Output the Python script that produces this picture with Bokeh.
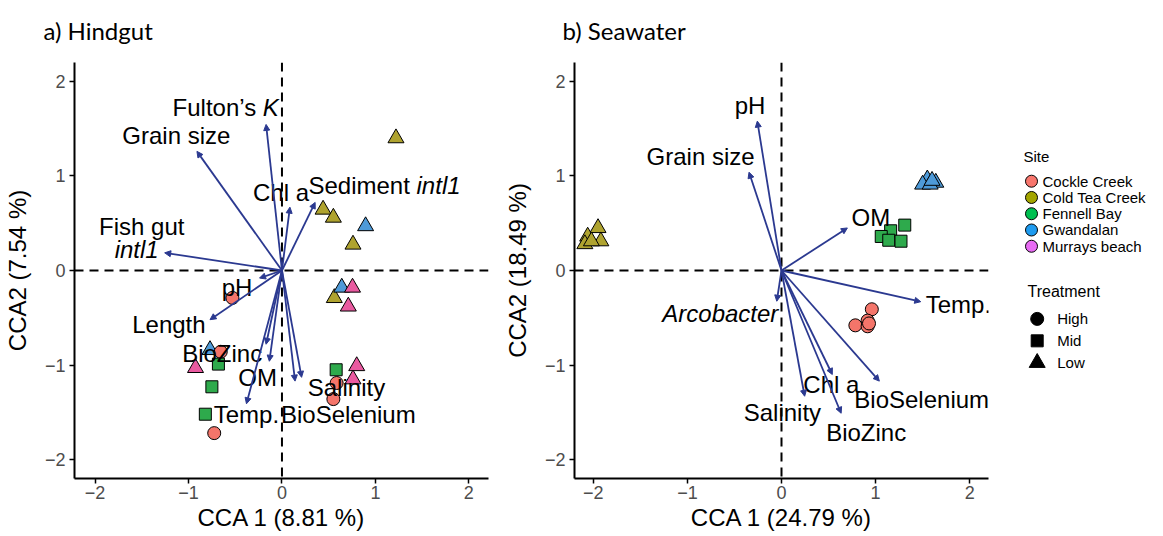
from bokeh.plotting import figure
from bokeh.models import Range1d, Span, Arrow, NormalHead, ColumnDataSource, FixedTicker
from bokeh.layouts import row
from bokeh.embed import file_html
from bokeh.resources import INLINE
from bokeh.core.properties import value

# ---------------- data ----------------
sites = ["Cockle Creek", "Cold Tea Creek", "Fennell Bay", "Gwandalan", "Murrays beach"]
site_treatment = {"Cockle Creek": "High", "Cold Tea Creek": "Low", "Fennell Bay": "Mid",
                  "Gwandalan": "Low", "Murrays beach": "Low"}
treatments = ["High", "Mid", "Low"]

# Hindgut sample scores
hind_site = (["Cold Tea Creek"] * 5 + ["Gwandalan"] * 3 + ["Murrays beach"] * 5 +
             ["Cockle Creek"] * 5 + ["Fennell Bay"] * 4)
hind_x = [1.22, 0.44, 0.55, 0.76, 0.56,
          0.895, 0.64, -0.77,
          0.755, 0.71, -0.925, 0.80, 0.76,
          -0.53, -0.655, -0.725, 0.585, 0.55,
          -0.68, -0.75, -0.82, 0.58]
hind_y = [1.40, 0.645, 0.56, 0.275, -0.29,
          0.47, -0.18, -0.84,
          -0.18, -0.38, -1.03, -1.01, -1.15,
          -0.29, -0.86, -1.72, -1.19, -1.36,
          -0.99, -1.23, -1.52, -1.05]

# Hindgut biplot arrows
hind_vars = ["Fulton's K", "Grain size", "Chl a", "Sediment intl1", "Fish gut intl1", "pH",
             "Length", "BioZinc", "OM", "Temp.", "Salinity", "BioSelenium"]
hind_ax = [-0.17, -0.91, 0.085, 0.355, -1.255, -0.24, -0.77, -0.17, -0.135, -0.38, 0.14, 0.21]
hind_ay = [1.545, 1.26, 0.67, 0.72, 0.187, -0.08, -0.52, -0.78, -0.96, -1.41, -1.17, -1.13]

# Hindgut arrow labels (plain)
hind_lab = ["Grain size", "Chl a", "pH", "Length", "BioZinc", "OM", "Temp.", "Salinity",
            "BioSelenium", "Fish gut"]
hind_lx = [-1.13, -0.01, -0.48, -1.21, -0.64, -0.26, -0.38, 0.69, 0.71, -1.50]
hind_ly = [1.43, 0.82, -0.18, -0.57, -0.88, -1.13, -1.52, -1.24, -1.52, 0.47]
# labels with italic parts: plain part ends / italic part starts at (x, y)
hind_mix_plain = ["Fulton\u2019s ", "Sediment "]
hind_mix_ital = ["K", "intl1"]
hind_mx = [-0.205, 1.44]
hind_my = [1.72, 0.90]
# fully italic labels
hind_ital = ["intl1"]
hind_ix = [-1.555]
hind_iy = [0.22]

# Seawater sample scores
sea_site = (["Cold Tea Creek"] * 5 + ["Gwandalan"] * 5 + ["Fennell Bay"] * 5 +
            ["Cockle Creek"] * 5)
sea_x = [-1.95, -2.06, -2.09, -1.92, -2.02,
         1.55, 1.50, 1.64, 1.58, 1.60,
         1.31, 1.16, 1.06, 1.14, 1.27,
         0.96, 0.915, 0.785, 0.915, 0.93]
sea_y = [0.45, 0.36, 0.28, 0.31, 0.31,
         0.965, 0.91, 0.93, 0.91, 0.95,
         0.48, 0.42, 0.36, 0.32, 0.31,
         -0.41, -0.53, -0.58, -0.59, -0.56]

sea_vars = ["pH", "Grain size", "OM", "Temp.", "Arcobacter", "Chl a", "BioSelenium",
            "Salinity", "BioZinc"]
sea_ax = [-0.257, -0.345, 0.70, 1.48, -0.05, 0.54, 1.04, 0.246, 0.634]
sea_ay = [1.58, 1.04, 0.45, -0.33, -0.325, -1.10, -1.17, -1.33, -1.51]

sea_lab = ["pH", "Grain size", "OM", "Temp.", "Chl a", "BioSelenium", "Salinity", "BioZinc"]
sea_lx = [-0.335, -0.86, 0.95, 1.88, 0.53, 1.49, 0.01, 0.90]
sea_ly = [1.74, 1.21, 0.565, -0.36, -1.21, -1.36, -1.50, -1.71]
sea_ital = ["Arcobacter"]
sea_ix = [-0.65]
sea_iy = [-0.45]

ticks = [-2, -1, 0, 1, 2]

# ---------------- styles ----------------
plot_colors = {"Cockle Creek": "#F4756A", "Cold Tea Creek": "#AFA32F", "Fennell Bay": "#2EAA4C",
               "Gwandalan": "#4E9AD8", "Murrays beach": "#E95AA0"}
legend_colors = {"Cockle Creek": "#F8766D", "Cold Tea Creek": "#A3A500", "Fennell Bay": "#00BF50",
                 "Gwandalan": "#1E9BF0", "Murrays beach": "#E76BF3"}
markers = {"High": "circle", "Mid": "square", "Low": "triangle"}
msize = {"High": 13, "Mid": 12, "Low": 16}
ARROW = "#2B3990"
FONT = "Liberation Sans"
TITLE_FONT = "Lato"
TOP, BOTTOM, H = 61, 58, 536
LABEL_SIZE = "24px"


def panel(title, title_offset, xlab, ylab, xr, yr, width, left, pts, arr, labs, mixed, itals):
    p = figure(width=width, height=H, min_border_left=left, min_border_right=12,
               min_border_top=TOP, min_border_bottom=BOTTOM,
               x_range=Range1d(*xr), y_range=Range1d(*yr), output_backend="svg",
               toolbar_location=None)
    p.title.text = title
    p.title.text_font = TITLE_FONT
    p.title.text_font_size = "24px"
    p.title.text_font_style = "normal"
    p.title.text_color = "black"
    p.title.offset = title_offset
    p.title.vertical_align = "top"
    p.title.standoff = 31
    p.grid.visible = False
    p.outline_line_color = None
    p.background_fill_color = "white"
    for ax, lab in ((p.xaxis, xlab), (p.yaxis, ylab)):
        ax.axis_label = lab
        ax.ticker = FixedTicker(ticks=ticks)
        ax.axis_label_text_font = FONT
        ax.axis_label_text_font_size = LABEL_SIZE
        ax.axis_label_text_font_style = "normal"
        ax.axis_label_text_color = "black"
        ax.major_label_text_font = FONT
        ax.major_label_text_font_size = "18px"
        ax.major_label_text_color = "#4D4D4D"
        ax.axis_line_color = "black"
        ax.axis_line_width = 2
        ax.major_tick_line_color = "black"
        ax.major_tick_line_width = 1.5
        ax.major_tick_out = 5
        ax.major_tick_in = 0
        ax.minor_tick_line_color = None
    p.xaxis.major_label_standoff = 2
    p.xaxis.axis_label_standoff = 2
    p.yaxis.major_label_standoff = 4
    p.yaxis.axis_label_standoff = 11

    s, x, y = pts
    src = ColumnDataSource(dict(
        x=x, y=y,
        color=[plot_colors[k] for k in s],
        marker=[markers[site_treatment[k]] for k in s],
        size=[msize[site_treatment[k]] for k in s]))
    p.scatter("x", "y", source=src, marker="marker", size="size", fill_color="color",
              line_color="black", line_width=1)

    for dim in ("width", "height"):
        p.add_layout(Span(location=0, dimension=dim, line_color="black", line_width=2,
                          line_dash="9 6"))

    names, ax_, ay_ = arr
    asrc = ColumnDataSource(dict(x0=[0.0] * len(ax_), y0=[0.0] * len(ay_), x1=ax_, y1=ay_))
    p.add_layout(Arrow(end=NormalHead(size=6, fill_color=ARROW, line_color=ARROW, line_width=1),
                       x_start="x0", y_start="y0", x_end="x1", y_end="y1", source=asrc,
                       line_color=ARROW, line_width=1.8))

    t, lx, ly = labs
    p.text(lx, ly, text=t, text_font=value(FONT), text_font_size=LABEL_SIZE, text_color="black",
           text_align="center", text_baseline="middle")
    if mixed is not None:
        mp, mi, mx, my = mixed
        p.text(mx, my, text=mp, text_font=value(FONT), text_font_size=LABEL_SIZE,
               text_color="black", text_align="right", text_baseline="middle")
        p.text(mx, my, text=mi, text_font=value(FONT), text_font_size=LABEL_SIZE,
               text_color="black", text_align="left", text_baseline="middle",
               text_font_style="italic")
    it, ix, iy = itals
    p.text(ix, iy, text=it, text_font=value(FONT), text_font_size=LABEL_SIZE, text_color="black",
           text_align="center", text_baseline="middle", text_font_style="italic")
    return p


p1 = panel("a) Hindgut", -31, "CCA 1 (8.81 %)", "CCA2 (7.54 %)", (-2.22, 2.21), (-2.2, 2.2),
           500, 71, (hind_site, hind_x, hind_y), (hind_vars, hind_ax, hind_ay),
           (hind_lab, hind_lx, hind_ly), (hind_mix_plain, hind_mix_ital, hind_mx, hind_my),
           (hind_ital, hind_ix, hind_iy))
p2 = panel("b) Seawater", -12, "CCA 1 (24.79 %)", "CCA2 (18.49 %)", (-2.2, 2.2), (-2.2, 2.2),
           500, 72, (sea_site, sea_x, sea_y), (sea_vars, sea_ax, sea_ay),
           (sea_lab, sea_lx, sea_ly), None, (sea_ital, sea_ix, sea_iy))

# ---------------- legend panel (coordinates = page pixels) ----------------
LW = 163
pl = figure(width=LW, height=H, min_border_left=0, min_border_right=0,
            min_border_top=TOP, min_border_bottom=BOTTOM,
            x_range=Range1d(0, LW), y_range=Range1d(H - BOTTOM, TOP),
            output_backend="svg", toolbar_location=None)
pl.axis.visible = False
pl.grid.visible = False
pl.outline_line_color = None

site_top, site_step = 180.0, 16.3
pl.text([23], [155], text=["Site"], text_font=value(FONT), text_font_size="15px",
        text_align="left", text_baseline="middle", text_color="black")
sy = [site_top + i * site_step for i in range(len(sites))]
pl.scatter([31] * len(sites), sy, marker="circle", size=12,
           fill_color=[legend_colors[k] for k in sites], line_color="black", line_width=1)
pl.text([42] * len(sites), sy, text=sites, text_font=value(FONT), text_font_size="15px",
        text_align="left", text_baseline="middle", text_color="black")

tr_top, tr_step = 318.0, 22.0
pl.text([27], [291], text=["Treatment"], text_font=value(FONT), text_font_size="16px",
        text_align="left", text_baseline="middle", text_color="black")
ty = [tr_top + i * tr_step for i in range(len(treatments))]
pl.scatter([36.7] * 3, ty, marker=[markers[k] for k in treatments],
           size=[13, 12, 16], fill_color="black", line_color="black")
pl.text([56.7] * 3, ty, text=treatments, text_font=value(FONT), text_font_size="15px",
        text_align="left", text_baseline="middle", text_color="black")

layout = row(p1, p2, pl)
open("out.html", "w").write(file_html(layout, INLINE))
